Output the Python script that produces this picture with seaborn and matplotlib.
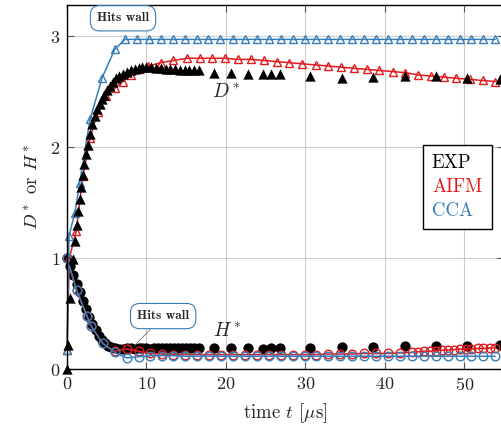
import matplotlib
matplotlib.use("Agg")
import matplotlib.pyplot as plt
from matplotlib.lines import Line2D
import seaborn as sns

# experiment: D* (triangles) and H* (circles)
exp_d_t = [0.05, 0.15, 0.35, 0.7, 1.0, 1.2, 1.4, 1.6, 1.8, 2.0, 2.2, 2.4, 2.6, 2.9, 3.2, 3.5,
           3.8, 4.1, 4.4, 4.7, 5.0, 5.4, 5.8, 6.2, 6.6, 7.0, 7.5, 8.0, 8.5, 9.0, 9.5, 10.0,
           10.6, 11.2, 11.8, 12.4, 13.0, 13.6, 14.2, 14.8, 15.4, 16.0, 16.6,
           18.5, 20.7, 22.8, 24.7, 25.7, 26.8, 30.6, 34.6, 38.5, 42.5, 46.5, 50.4, 54.5]
exp_d = [0.0, 0.22, 0.64, 0.99, 1.15, 1.3, 1.42, 1.53, 1.64, 1.75, 1.85, 1.94, 2.02, 2.12, 2.21, 2.28,
         2.34, 2.39, 2.43, 2.47, 2.51, 2.55, 2.59, 2.62, 2.64, 2.66, 2.68, 2.69, 2.70, 2.71, 2.72, 2.72,
         2.72, 2.71, 2.71, 2.70, 2.70, 2.70, 2.69, 2.69, 2.69, 2.69, 2.69,
         2.67, 2.67, 2.66, 2.66, 2.66, 2.66, 2.64, 2.62, 2.63, 2.64, 2.64, 2.62, 2.61]

exp_h_t = [0.0, 0.4, 0.8, 1.2, 1.6, 2.0, 2.4, 2.8, 3.2, 3.6, 4.0, 4.4, 4.8, 5.2, 5.6, 6.0,
           6.5, 7.0, 7.5, 8.0, 8.5, 9.0, 9.5, 10.0, 10.5, 11.0, 11.5, 12.0, 12.5, 13.0, 13.5,
           14.0, 14.5, 15.0, 15.5, 16.0, 16.6,
           18.5, 20.7, 22.8, 24.7, 25.7, 26.8, 30.6, 34.6, 38.5, 42.5, 46.5, 50.4, 54.5]
exp_h = [1.0, 0.93, 0.85, 0.77, 0.69, 0.61, 0.54, 0.47, 0.41, 0.35, 0.30, 0.26, 0.23, 0.21, 0.20, 0.19,
         0.18, 0.18, 0.19, 0.19, 0.18, 0.19, 0.19, 0.19, 0.18, 0.19, 0.19, 0.19, 0.19, 0.19, 0.19,
         0.19, 0.19, 0.19, 0.19, 0.19, 0.19,
         0.19, 0.19, 0.19, 0.18, 0.19, 0.19, 0.19, 0.20, 0.20, 0.21, 0.21, 0.21, 0.22]

# AIFM model
aifm_d_t = [0.0, 0.3, 1.15, 2.0, 2.9, 3.9, 4.9, 6.0, 7.0, 8.1, 9.0, 10.2, 11.8, 13.4, 15.1, 16.7,
            18.3, 19.9, 21.5, 23.2, 24.8, 26.4, 28.0, 29.6, 31.3, 32.9, 34.5, 36.1, 37.7, 39.3,
            41.0, 42.6, 44.2, 45.8, 47.4, 49.0, 50.7, 52.3, 53.9]
aifm_d = [0.17, 1.0, 1.24, 1.74, 2.08, 2.32, 2.46, 2.53, 2.59, 2.65, 2.70, 2.73, 2.76, 2.78, 2.80, 2.80,
          2.80, 2.80, 2.79, 2.79, 2.78, 2.77, 2.76, 2.75, 2.74, 2.73, 2.72, 2.71, 2.70, 2.69,
          2.68, 2.67, 2.65, 2.64, 2.63, 2.62, 2.61, 2.60, 2.59]

aifm_h_t = [0.0, 1.2, 2.5, 3.0, 4.5, 6.0, 7.5, 9.0, 10.5, 11.9, 13.4, 14.9, 16.4, 17.9, 19.4, 20.9,
            22.4, 23.9, 25.4, 26.9, 28.4, 29.9, 31.4, 32.9, 34.4, 35.9, 37.4, 38.9, 40.4, 41.9,
            43.4, 44.2, 44.9, 45.7, 46.4, 47.2, 47.9, 48.7, 49.4, 50.2, 50.9, 51.7, 52.4, 53.2, 53.9]
aifm_h = [1.0, 0.71, 0.48, 0.39, 0.23, 0.16, 0.18, 0.16, 0.14, 0.135, 0.13, 0.13, 0.13, 0.13, 0.13, 0.13,
          0.13, 0.13, 0.13, 0.13, 0.13, 0.13, 0.13, 0.135, 0.135, 0.135, 0.14, 0.14, 0.14, 0.145,
          0.15, 0.155, 0.16, 0.16, 0.165, 0.17, 0.17, 0.175, 0.18, 0.18, 0.18, 0.185, 0.185, 0.19, 0.19]

# CCA model
cca_d_t = [0.0, 0.25, 1.0, 1.6, 2.9, 4.4, 6.0, 7.3, 8.8, 10.3, 11.8, 13.3, 14.8, 16.3, 17.8, 19.3,
           20.9, 22.4, 23.9, 25.4, 26.9, 28.4, 29.9, 31.4, 32.9, 34.4, 35.9, 37.4, 38.9, 40.4,
           41.9, 43.4, 44.9, 46.4, 47.9, 49.4, 50.9, 52.4, 53.9]
cca_d = [0.17, 1.2, 1.41, 1.68, 2.25, 2.62, 2.88, 2.97, 2.97, 2.97, 2.97, 2.97, 2.97, 2.97, 2.97, 2.97,
         2.97, 2.97, 2.97, 2.97, 2.97, 2.97, 2.97, 2.97, 2.97, 2.97, 2.97, 2.97, 2.97, 2.97,
         2.97, 2.97, 2.97, 2.97, 2.97, 2.97, 2.97, 2.97, 2.97]

cca_h_t = [0.0, 1.2, 2.5, 3.0, 4.5, 6.0, 7.5, 9.0, 10.5, 11.9, 13.4, 14.9, 16.4, 17.9, 19.4, 20.9,
           22.4, 23.9, 25.4, 26.9, 28.4, 29.9, 31.4, 32.9, 34.4, 35.9, 37.4, 38.9, 40.4, 41.9,
           43.4, 44.9, 46.4, 47.9, 49.4, 50.9, 52.4, 53.9]
cca_h = [1.0, 0.71, 0.48, 0.39, 0.23, 0.15, 0.10, 0.11, 0.12, 0.12, 0.12, 0.115, 0.115, 0.115, 0.115, 0.115,
         0.115, 0.115, 0.115, 0.115, 0.115, 0.115, 0.115, 0.115, 0.115, 0.115, 0.115, 0.115, 0.115, 0.115,
         0.115, 0.115, 0.115, 0.115, 0.115, 0.115, 0.115, 0.115]

RED = "#e41a1c"
BLUE = "#377eb8"

sns.set_theme(style="whitegrid")
plt.rcParams["font.family"] = ["cmr10", "DejaVu Serif"]
plt.rcParams["mathtext.fontset"] = "cm"
plt.rcParams["axes.formatter.use_mathtext"] = True

fig = plt.figure(figsize=(5.01, 4.32), dpi=100)
ax = fig.add_axes([67 / 501, 63 / 432, 437 / 501, 364 / 432])

line_kw = dict(sort=False, estimator=None, lw=1.1, markersize=6.2, markerfacecolor="none",
               markeredgewidth=1.0, legend=False, ax=ax, clip_on=False)

# models
sns.lineplot(x=aifm_d_t, y=aifm_d, color=RED, marker="^", markeredgecolor=RED, **line_kw)
sns.lineplot(x=aifm_h_t, y=aifm_h, color=RED, marker="o", markeredgecolor=RED, **line_kw)
sns.lineplot(x=cca_d_t, y=cca_d, color=BLUE, marker="^", markeredgecolor=BLUE, **line_kw)
sns.lineplot(x=cca_h_t, y=cca_h, color=BLUE, marker="o", markeredgecolor=BLUE, **line_kw)

# experiment
sns.scatterplot(x=exp_d_t, y=exp_d, marker="^", s=55, color="black", linewidth=0,
                legend=False, ax=ax, clip_on=False, zorder=3)
sns.scatterplot(x=exp_h_t, y=exp_h, marker="o", s=55, color="black", linewidth=0,
                legend=False, ax=ax, clip_on=False, zorder=1)

ax.set_xlim(0, 55)
ax.set_ylim(0, 3.28)
ax.set_xticks([0, 10, 20, 30, 40, 50])
ax.set_yticks([0, 1, 2, 3])
ax.grid(True, color="#cccccc", lw=0.8)
for s in ax.spines.values():
    s.set_color("black")
    s.set_linewidth(1.0)
ax.tick_params(direction="in", length=5, width=0.8, color="#555555", labelsize=13,
               top=True, right=True, left=True, bottom=True, pad=5)

ax.set_xlabel(r"time $t$ [$\mu$s]", fontsize=13.5, labelpad=6)
ax.set_ylabel(r"$D^*$ or $H^*$", fontsize=13.5, labelpad=6)

ax.text(20.0, 2.50, r"$D^*$", fontsize=14, ha="center", va="center")
ax.text(20.2, 0.34, r"$H^*$", fontsize=14, ha="center", va="center")

box = dict(boxstyle="round,pad=0.5,rounding_size=0.7", fc="white", ec=BLUE, lw=0.8)
ax.text(7.05, 3.16, "Hits wall", fontsize=9.5, family="cmb10", ha="center", va="center",
        bbox=box, zorder=5)
ax.annotate("Hits wall", xy=(8.55, 0.215), xytext=(12.1, 0.477), fontsize=9.5, family="cmb10",
            ha="center", va="center", bbox=box, zorder=5,
            arrowprops=dict(arrowstyle="-", color="#777777", lw=0.6, shrinkA=0, shrinkB=0))

handles = [Line2D([], [], linestyle="none") for _ in range(3)]
leg = ax.legend(handles, ["EXP", "AIFM", "CCA"], loc="center", bbox_to_anchor=(0.8925, 0.50),
                handlelength=0, handletextpad=0, fontsize=13.5, labelcolor=["black", RED, BLUE],
                frameon=True, fancybox=False, edgecolor="black", framealpha=1,
                borderpad=0.5, labelspacing=0.3, borderaxespad=0)
leg.get_frame().set_linewidth(1.0)
for t in leg.get_texts():
    t.set_ha("center")

fig.savefig("out.png", dpi=100)
